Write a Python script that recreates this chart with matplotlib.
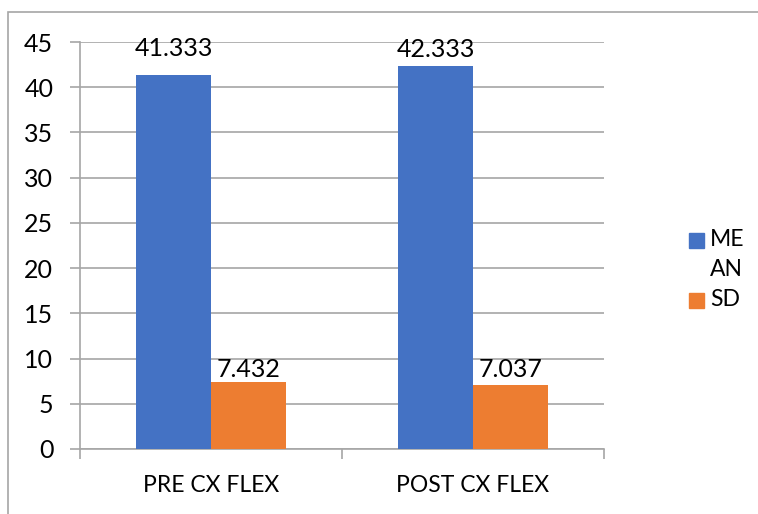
import matplotlib.pyplot as plt
import numpy as np
from matplotlib.patches import Rectangle
from matplotlib.transforms import blended_transform_factory

categories = ['PRE CX FLEX', 'POST CX FLEX']
mean_vals = [41.333, 42.333]
sd_vals = [7.432, 7.037]
mean_labels = ['41.333', '42.333']
sd_labels = ['7.432', '7.037']

plt.rcParams['font.family'] = ['Lato', 'DejaVu Sans']

W, H = 758, 514
fig = plt.figure(figsize=(W / 100, H / 100), dpi=100)
grey = '#a6a6a6'

# outer chart border (runs off the right and bottom edges)
fig.patches.append(Rectangle((8 / W, -0.1), 1.2, 1 - 12 / H + 0.1, transform=fig.transFigure,
                             fill=False, edgecolor=grey, linewidth=1.2))

ax = fig.add_axes([80 / W, 1 - 449 / H, (604 - 80) / W, (449 - 42) / H])

x = np.arange(len(categories))
bw = 75 / 262
b1 = ax.bar(x - bw / 2, mean_vals, bw, color='#4472c4', zorder=3)
b2 = ax.bar(x + bw / 2, sd_vals, bw, color='#ed7d31', zorder=3)

# gap (pt) between bar top and label baseline
lift = {0: [13.7, 6.5], 1: [3.6, 5.8]}
for k, (bars, labs) in enumerate(((b1, mean_labels), (b2, sd_labels))):
    for r, t, d in zip(bars, labs, lift[k]):
        ax.annotate(t, (r.get_x() + r.get_width() / 2, r.get_height()),
                    xytext=(0, d), textcoords='offset points',
                    ha='center', va='baseline', fontsize=18, zorder=4)

ax.set_xlim(-0.5, 1.5)
ax.set_ylim(0, 45)
ax.set_yticks(range(0, 46, 5))
ax.yaxis.grid(True, color=grey, linewidth=1.2, zorder=0)
ax.tick_params(axis='y', length=7.2, color=grey, width=1.2, labelsize=18, pad=12)
ax.set_xticks([-0.5, 0.5, 1.5])
ax.set_xticklabels([])
ax.tick_params(axis='x', length=7, color=grey, width=1.2)

# category names under each group
tr = blended_transform_factory(ax.transData, fig.transFigure)
for i, c in enumerate(categories):
    ax.text(i, 1 - 486 / H, c, ha='center', va='center', fontsize=16.5, transform=tr)

for s in ('top', 'right'):
    ax.spines[s].set_visible(False)
for s in ('left', 'bottom'):
    ax.spines[s].set_color(grey)
    ax.spines[s].set_linewidth(1.2)

# legend: series name wraps onto two lines
for y0, col in ((240, '#4472c4'), (300, '#ed7d31')):
    fig.patches.append(Rectangle((689 / W, 1 - (y0 + 7.5) / H), 15 / W, 15 / H,
                                 transform=fig.transFigure, color=col))
for y0, t in ((240, 'ME'), (270, 'AN'), (300, 'SD')):
    fig.text(710 / W, 1 - y0 / H, t, ha='left', va='center', fontsize=16.5)

fig.savefig('out.png', dpi=100)
